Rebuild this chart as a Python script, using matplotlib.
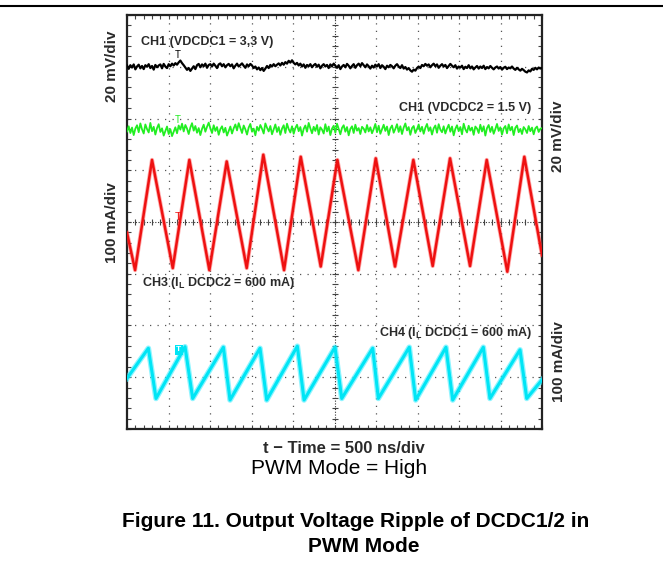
import numpy as np
import matplotlib
matplotlib.use("Agg")
import matplotlib.pyplot as plt

plt.rcParams['font.family'] = ['Liberation Sans', 'DejaVu Sans']
plt.rcParams['mathtext.fontset'] = 'custom'
plt.rcParams['mathtext.rm'] = 'Liberation Sans'
plt.rcParams['mathtext.bf'] = 'Liberation Sans:bold'

# ── screen: 10 x 8 div, 500 ns/div ─────────────────────
NS_PER_DIV = 500

# CH1 (VDCDC1) ripple, mV (20 mV/div)
black_mv = [
    0.5, -0.8, 0.6, -0.3, 0.9, -1.0, 0.1, 0.8, -0.6, 0.3,
    -0.9, 0.6, 0.0, 1.0, -0.5, 0.3, -1.1, 0.7, -0.2, 0.5,
    0.9, -0.6, 1.1, 0.1, -0.5, 1.0, 0.2, 1.2, 0.5, 1.4,
    0.8, 1.7, 2.4, 1.4, 0.6, -0.3, -1.2, -0.5, -1.6, -0.7,
    0.2, -0.9, 0.6, 1.1, -0.2, 0.9, 0.2, 1.2, -0.4, 0.7,
    1.0, 0.1, 1.2, 0.4, -0.5, 0.9, 1.3, 0.2, 1.0, -0.2,
    0.6, 1.1, 0.2, 0.9, -0.6, 0.4, 1.2, 0.1, 0.7, 1.3,
    0.4, -0.4, 0.9, 0.2, 1.1, 0.5, -0.5, 0.1, -1.0, -0.3,
    -1.3, -0.5, -1.6, -0.7, 0.3, -0.5, 0.7, 0.1, 1.0, 0.2,
    0.8, 1.3, 0.5, 1.5, 0.8, 1.8, 1.2, 2.3, 1.6, 2.5,
    1.5, 0.9, 1.5, 0.5, 1.2, 0.1, 0.9, -0.4, 0.7, 0.2,
    1.0, -0.2, 0.6, 1.1, 0.0, 0.8, -0.6, 0.4, 1.0, 0.1,
    0.7, -0.5, 0.9, 0.2, 1.2, 0.4, -0.4, 0.6, -0.9, 0.1,
    0.7, -0.2, 1.1, 0.4, -0.6, 0.3, 1.0, -0.4, 0.6, 1.2,
    0.2, 1.4, 0.6, -0.2, 0.9, 0.2, -0.7, 0.4, -0.3, 0.8,
    0.1, 1.0, -0.5, 0.6, 0.0, -0.9, 0.4, -0.2, 0.7, 0.2,
    -0.6, 0.4, 1.0, 0.1, -0.5, 0.6, -0.7, -0.1, -1.1, -0.5,
    -1.4, -1.9, -1.1, -1.5, -0.5, 0.1, -0.5, 0.7, 0.2, 1.1,
    0.4, 0.9, -0.2, 0.6, 1.2, 0.2, 0.9, -0.4, 0.4, 1.0,
    0.1, 0.7, -0.5, 0.3, 1.1, 0.4, -0.2, 0.6, -0.7, 0.1,
    -0.3, 0.4, -0.9, 0.0, -0.5, 0.6, -0.6, 0.1, -1.0, -0.3,
    0.3, -0.7, 0.1, -0.5, 0.4, -0.9, -0.1, -0.6, 0.3, -0.4,
    -1.0, -0.3, 0.1, -0.7, -0.1, -1.1, -0.4, 0.0, -0.9, -0.3,
    -0.6, 0.1, -0.7, -1.2, -0.4, -1.0, -1.5, -0.8, -1.3, -1.9,
    -2.2, -1.4, -1.8, -0.8, -1.2, -0.4, -1.0, -0.3, -0.7, -0.5]

# CH1 (VDCDC2) ripple, mV (20 mV/div)
green_mv = [
    -0.6, 1.4, -1.2, 0.9, -2.0, 0.5, 1.8, -0.9, 2.5, 0.2,
    -1.4, 2.1, 0.3, -1.0, 2.7, -0.5, 1.2, -1.8, 0.7, 2.2,
    -0.8, 0.6, -2.2, -0.5, 1.3, -1.6, 0.3, -2.4, -0.7, 1.0,
    -1.3, 1.7, 0.1, 2.4, -0.6, 1.9, 0.5, -1.6, 0.9, 2.6,
    -0.3, 1.5, -1.1, 0.7, -2.0, 0.4, 2.0, -0.7, 1.2, 2.8,
    0.6, -1.2, 1.8, -0.4, 1.1, -1.9, 0.3, 1.4, -1.0, 0.8,
    -2.2, -0.5, 1.3, -1.4, 0.6, 2.1, -0.2, 2.6, 0.7, -1.2,
    1.7, 0.2, -1.8, 0.9, 2.3, -0.7, 0.5, -2.1, 1.2, -0.3,
    1.9, 0.4, -1.4, 2.5, 0.8, -0.6, 1.5, -1.7, 0.2, 2.1,
    -0.8, 1.1, -1.9, 0.5, 1.8, -1.2, 2.4, 0.3, -1.0, 1.4,
    -1.5, 0.7, 2.0, -0.5, 1.1, -2.2, 0.4, 1.7, -0.7, 2.7,
    0.6, -1.3, 1.2, -0.4, 1.9, -1.8, 1.0, 0.1, -1.4, 2.2,
    -0.6, 1.3, -2.0, 0.5, 1.6, -1.1, 2.4, 0.3, -1.7, 0.8,
    1.8, -0.7, 1.1, -2.1, 0.4, 1.4, -1.2, 2.0, -0.3, 0.7,
    -1.6, 1.2, 0.5, -1.0, 1.9, -0.6, 1.0, -1.3, 0.3, 2.3,
    -0.9, 1.6, -1.5, 0.2, 2.0, -0.4, 1.3, -2.0, 0.6, 1.7,
    -1.1, 0.4, 2.2, -0.8, 1.4, -1.6, 0.9, 2.5, -0.2, 1.1,
    -1.9, 0.7, 1.5, -1.2, 0.3, 2.1, -0.6, 1.2, -1.5, 0.8,
    2.3, -0.4, 1.0, -1.8, 0.6, 1.7, -1.1, 2.2, 0.1, -0.9,
    1.4, -1.4, 0.5, 2.0, -0.7, 1.3, -2.1, 0.4, 1.8, -0.5,
    1.1, -1.7, 2.4, 0.2, -1.0, 1.6, -0.3, 0.9, -1.9, 1.3,
    0.5, -1.2, 2.0, -0.6, 1.4, -2.2, 0.7, 1.9, -0.8, 1.2,
    -1.5, 0.3, 2.3, -0.4, 1.0, -1.8, 0.6, 1.5, -1.3, 2.1,
    -0.2, 1.2, -2.0, 0.8, 1.7, -0.9, 0.4, -1.6, 1.1, 0.2,
    -1.2, 1.5, -0.5, 0.9, -1.7, 0.6, 1.3, -0.8, 0.4, 0.7]

# CH3 inductor current DCDC2 (triangle), ns / mA
red_t = [0, 97, 301, 551, 751, 992, 1201, 1442, 1642, 1892, 2093, 2334,
         2534, 2787, 2997, 3229, 3450, 3683, 3892, 4133, 4334, 4582, 4787, 5000]
red_ma = [564, 492, 705, 496, 705, 492, 702, 496, 715, 492, 711, 499,
          705, 492, 708, 499, 705, 500, 708, 500, 705, 489, 711, 521]

# CH4 inductor current DCDC1 (sawtooth), ns / mA
cyan_t = [0, 257, 349, 699, 791, 1161, 1241, 1602, 1683, 2052, 2133, 2506,
          2587, 2960, 3028, 3401, 3478, 3843, 3924, 4293, 4373, 4735, 4816, 5000]
cyan_ma = [591, 649, 552, 652, 552, 651, 549, 649, 549, 653, 549, 651,
           552, 649, 552, 651, 549, 651, 549, 651, 552, 646, 552, 588]

# screen positions (div) of each channel's reference level
POS_BLACK, POS_GREEN, POS_RED, POS_CYAN = 7.0, 5.78, 4.15, 1.07

fig = plt.figure(figsize=(6.63, 5.71), dpi=100, facecolor='white')
ax = fig.add_axes([0.1916, 0.2487, 0.6259, 0.7250])
ax.set_xlim(0, 10)
ax.set_ylim(0, 8)

# grid
for xg in range(1, 10):
    if xg != 5:
        ax.axvline(xg, color='#555555', lw=0.9, ls=(0, (1, 5)), zorder=1)
for yg in range(1, 8):
    if yg != 4:
        ax.axhline(yg, color='#555555', lw=0.9, ls=(0, (1, 5)), zorder=1)
ax.axvline(5, color='#333333', lw=0.8, ls=(0, (1, 1.5)), zorder=1)
ax.axhline(4, color='#333333', lw=0.8, ls=(0, (1, 1.5)), zorder=1)
minor_x = np.arange(0, 10.01, 0.2)
minor_y = np.arange(0, 8.01, 0.2)
ax.plot(minor_x, np.full_like(minor_x, 4), ls='none', marker='|', ms=5,
        color='#444444', mew=0.8, zorder=1)
ax.plot(np.full_like(minor_y, 5), minor_y, ls='none', marker='_', ms=5,
        color='#444444', mew=0.8, zorder=1)

ax.set_xticks(minor_x)
ax.set_yticks(minor_y)
ax.tick_params(which='both', direction='in', length=3, width=0.8,
               color='#444444', top=True, right=True,
               labelbottom=False, labelleft=False)
for sp in ax.spines.values():
    sp.set_linewidth(1.6)
    sp.set_edgecolor('#222222')

# traces
tb = np.linspace(0, 10 * NS_PER_DIV, len(black_mv))
tg = np.linspace(0, 10 * NS_PER_DIV, len(green_mv))
ax.plot(tb / NS_PER_DIV, POS_BLACK + np.array(black_mv) / 20,
        color='black', lw=1.6, zorder=3)
ax.plot(tg / NS_PER_DIV, POS_GREEN + np.array(green_mv) / 20,
        color='#22ee22', lw=1.3, zorder=3)
ax.plot(np.array(red_t) / NS_PER_DIV, POS_RED + (np.array(red_ma) - 600) / 100,
        color='#ff5555', lw=3.0, alpha=0.5, zorder=3)
ax.plot(np.array(red_t) / NS_PER_DIV, POS_RED + (np.array(red_ma) - 600) / 100,
        color='#ee1111', lw=1.8, zorder=3)
ax.plot(np.array(cyan_t) / NS_PER_DIV, POS_CYAN + (np.array(cyan_ma) - 600) / 100,
        color='#44eeff', lw=4.0, alpha=0.6, zorder=3)
ax.plot(np.array(cyan_t) / NS_PER_DIV, POS_CYAN + (np.array(cyan_ma) - 600) / 100,
        color='#00e5f5', lw=2.2, zorder=3)

# trigger / level markers
ax.text(1.23, 7.23, 'T', color='black', fontsize=7, ha='center', va='center', zorder=4)
ax.text(1.23, 5.97, 'T', color='#22ee22', fontsize=7, ha='center', va='center', zorder=4)
ax.text(1.23, 4.10, 'T', color='#ee1111', fontsize=8, ha='center', va='center', zorder=4)
ax.text(1.25, 1.53, 'T', color='white', fontsize=6, fontweight='bold', ha='center',
        va='center', zorder=4,
        bbox=dict(boxstyle='square,pad=0.15', fc='#00e5f5', ec='none'))

# channel labels
lab = dict(fontsize=9, fontweight='bold', color='#2a2a2a', va='center', zorder=5)
ax.text(0.34, 7.48, 'CH1 (VDCDC1 = 3,3 V)', ha='left', **lab)
ax.text(9.75, 6.20, 'CH1 (VDCDC2 = 1.5 V)', ha='right', **lab)
ax.text(0.35, 2.83, r'CH3 (I$_{\mathbf{L}}$ DCDC2 = 600 mA)', ha='left', **lab)
ax.text(9.75, 1.86, r'CH4 (I$_{\mathbf{L}}$ DCDC1 = 600 mA)', ha='right', **lab)

# scale labels
side = dict(fontsize=11, fontweight='bold', color='#2a2a2a', rotation=90,
            ha='center', va='center')
fig.text(0.169, 0.884, '20 mV/div', **side)
fig.text(0.169, 0.610, '100 mA/div', **side)
fig.text(0.841, 0.762, '20 mV/div', **side)
fig.text(0.843, 0.366, '100 mA/div', **side)

fig.text(0.519, 0.2067, 't \u2212 Time = 500 ns/div', fontsize=12, fontweight='bold',
         color='#2a2a2a', ha='center', va='baseline')
fig.text(0.512, 0.170, 'PWM Mode = High', fontsize=15, color='black',
         ha='center', va='baseline')
fig.text(0.536, 0.077, 'Figure 11. Output Voltage Ripple of DCDC1/2 in',
         fontsize=15, fontweight='bold', color='black', ha='center', va='baseline')
fig.text(0.549, 0.0333, 'PWM Mode', fontsize=15, fontweight='bold', color='black',
         ha='center', va='baseline')

# top rule
fig.add_artist(plt.Line2D([0, 1], [0.9895, 0.9895], color='black', lw=1.5,
                          transform=fig.transFigure))

fig.savefig('out.png', dpi=100, facecolor='white')
